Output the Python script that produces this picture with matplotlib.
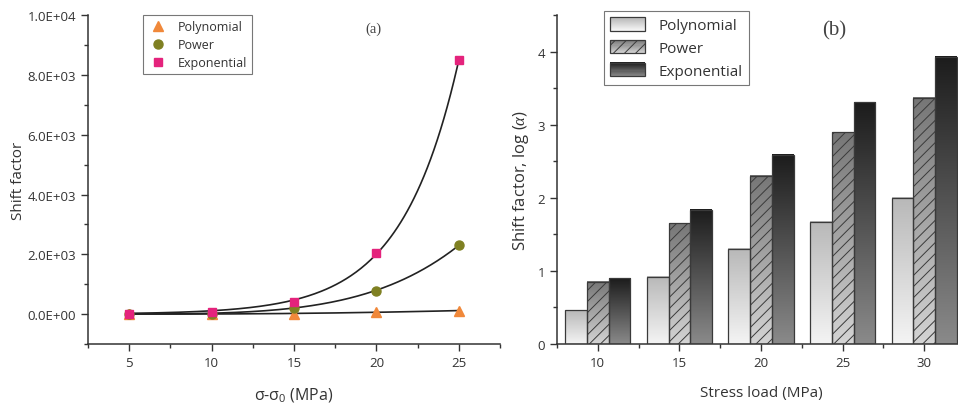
import numpy as np
import matplotlib
matplotlib.use("Agg")
import matplotlib.pyplot as plt
from matplotlib.colors import LinearSegmentedColormap, to_rgb
from matplotlib.patches import Rectangle
from matplotlib.legend_handler import HandlerBase
from matplotlib.ticker import MultipleLocator, FuncFormatter

plt.rcParams["font.family"] = ["Open Sans", "DejaVu Sans"]
plt.rcParams["mathtext.fontset"] = "custom"
plt.rcParams["mathtext.rm"] = "Open Sans"
plt.rcParams["mathtext.it"] = "Liberation Serif:italic"
plt.rcParams["hatch.linewidth"] = 0.7

# ---- panel (a): shift factor vs stress difference ----
stress_a = [5, 10, 15, 20, 25]
poly_a = [3, 10, 20, 60, 120]
power_a = [5, 20, 220, 790, 2300]
expo_a = [15, 60, 390, 2040, 8490]

# ---- panel (b): log shift factor vs stress load ----
stress_b = [10, 15, 20, 25, 30]
poly_b = [0.46, 0.92, 1.30, 1.67, 2.00]
power_b = [0.85, 1.65, 2.30, 2.90, 3.37]
expo_b = [0.90, 1.84, 2.59, 3.31, 3.93]

names = ["Polynomial", "Power", "Exponential"]
marker_colors = ["#f0883a", "#7f8022", "#e4237c"]
# (top colour, bottom colour) of each bar gradient
grad_colors = [("#b8b8b8", "#f4f4f4"), ("#767676", "#d4d4d4"), ("#1c1c1c", "#8a8a8a")]

TXT = "#333333"

fig = plt.figure(figsize=(9.58, 4.06), dpi=100)
ax1 = fig.add_axes([0.0919, 0.1502, 0.430, 0.810])
ax2 = fig.add_axes([0.5814, 0.1502, 0.426, 0.810])

for ax in (ax1, ax2):
    for s in ("top", "right"):
        ax.spines[s].set_visible(False)
    for s in ("left", "bottom"):
        ax.spines[s].set_color("#333333")
        ax.spines[s].set_linewidth(1.1)
    ax.tick_params(which="major", direction="out", length=5, width=1.0,
                   colors="#333333", labelsize=9.5, labelcolor=TXT)
    ax.tick_params(which="minor", direction="out", length=3, width=1.0,
                   colors="#333333")

# ---------------- (a) ----------------
xs = np.linspace(5, 25, 200)
x = np.array(stress_a, float)

# fitted curves (weighted towards the large values, like a linear-space fit)
ye = np.array(expo_a, float)
ce = np.polyfit(x, np.log(ye), 1, w=ye)
ax1.plot(xs, np.exp(np.polyval(ce, xs)), color="#222222", lw=1.2, zorder=2)

yp = np.array(power_a, float)
cp = np.polyfit(np.log(x), np.log(yp), 1, w=yp)
ax1.plot(xs, np.exp(np.polyval(cp, np.log(xs))), color="#222222", lw=1.2, zorder=2)

yl = np.array(poly_a, float)
cl = np.polyfit(x, yl, 2)
ax1.plot(xs, np.polyval(cl, xs), color="#222222", lw=1.2, zorder=2)

ax1.plot(stress_a, poly_a, "^", ls="none", color=marker_colors[0], ms=6.5,
         label=names[0], zorder=3)
ax1.plot(stress_a, power_a, "o", ls="none", color=marker_colors[1], ms=6.5,
         label=names[1], zorder=3)
ax1.plot(stress_a, expo_a, "s", ls="none", color=marker_colors[2], ms=6,
         label=names[2], zorder=3)

ax1.set_xlim(2.5, 27.5)
ax1.set_ylim(-1000, 10000)
ax1.xaxis.set_major_locator(MultipleLocator(5))
ax1.xaxis.set_minor_locator(MultipleLocator(2.5))
ax1.yaxis.set_major_locator(MultipleLocator(2000))
ax1.yaxis.set_minor_locator(MultipleLocator(1000))
ax1.yaxis.set_major_formatter(FuncFormatter(lambda v, p: f"{v:.1E}"))
ax1.set_ylabel("Shift factor", fontsize=11, color=TXT, labelpad=1)
ax1.set_xlabel(r"σ-σ$_0$ (MPa)", fontsize=11.5, color=TXT, labelpad=12)
ax1.text(0.694, 0.96, "(a)", transform=ax1.transAxes, fontsize=10.5,
         family="Liberation Serif", color="#444444", ha="center", va="center")
leg1 = ax1.legend(loc="upper left", bbox_to_anchor=(0.133, 1.0), borderaxespad=0,
                  fontsize=9, frameon=True, fancybox=False, handletextpad=0.8,
                  borderpad=0.4, labelspacing=0.4, handlelength=1.6)
leg1.get_frame().set_edgecolor("#555555")
leg1.get_frame().set_linewidth(0.8)
for t in leg1.get_texts():
    t.set_color(TXT)

# ---------------- (b) ----------------
width = 4 / 3
series_b = [poly_b, power_b, expo_b]
offsets = [-width, 0, width]


def gradient_cmap(top, bottom):
    return LinearSegmentedColormap.from_list("g", [bottom, top])


grad = np.linspace(0, 1, 256).reshape(-1, 1)
handles = []
for i, vals in enumerate(series_b):
    cmap = gradient_cmap(*grad_colors[i])
    pos = [s + offsets[i] for s in stress_b]
    bars = ax2.bar(pos, vals, width=width, facecolor="none", edgecolor="#3a3a3a",
                   linewidth=0.9, hatch="///" if i == 1 else None, zorder=3)
    for b in bars:
        x0, w, h = b.get_x(), b.get_width(), b.get_height()
        ax2.imshow(grad, extent=[x0, x0 + w, 0, h], origin="lower",
                   aspect="auto", cmap=cmap, zorder=2, interpolation="bilinear")
    handles.append(bars[0])


class GradientHandler(HandlerBase):
    def __init__(self, top, bottom, hatch=None):
        super().__init__()
        self.top, self.bottom, self.hatch = top, bottom, hatch

    def create_artists(self, legend, orig, xd, yd, w, h, fs, trans):
        arts = []
        n = 12
        c0, c1 = np.array(to_rgb(self.bottom)), np.array(to_rgb(self.top))
        for k in range(n):
            c = c0 + (c1 - c0) * (k + 0.5) / n
            r = Rectangle((-xd, -yd + h * k / n), w, h / n + 0.2, facecolor=c,
                          edgecolor="none", transform=trans)
            arts.append(r)
        edge = Rectangle((-xd, -yd), w, h, facecolor="none", edgecolor="#3a3a3a",
                         lw=0.9, hatch=self.hatch, transform=trans)
        arts.append(edge)
        return arts


ax2.set_xlim(7.5, 32.5)
ax2.set_ylim(0, 4.5)
ax2.xaxis.set_major_locator(MultipleLocator(5))
ax2.xaxis.set_minor_locator(MultipleLocator(2.5))
ax2.yaxis.set_major_locator(MultipleLocator(1))
ax2.yaxis.set_minor_locator(MultipleLocator(0.5))
ax2.yaxis.set_major_formatter(FuncFormatter(lambda v, p: f"{v:g}"))
ax2.set_ylabel(r"Shift factor, log ($\alpha$)", fontsize=12, color=TXT, labelpad=5)
ax2.set_xlabel("Stress load (MPa)", fontsize=11, color=TXT, labelpad=12)
ax2.text(0.68, 0.955, "(b)", transform=ax2.transAxes, fontsize=15,
         family="Liberation Serif", color="#444444", ha="center", va="center")
hmap = {handles[i]: GradientHandler(*grad_colors[i], hatch="///" if i == 1 else None)
        for i in range(3)}
leg2 = ax2.legend(handles, names, handler_map=hmap, loc="upper left",
                  bbox_to_anchor=(0.115, 1.012), borderaxespad=0, fontsize=11,
                  frameon=True, fancybox=False, handletextpad=0.9, borderpad=0.4,
                  labelspacing=0.45, handlelength=2.3, handleheight=0.95)
leg2.get_frame().set_edgecolor("#555555")
leg2.get_frame().set_linewidth(0.8)
for t in leg2.get_texts():
    t.set_color(TXT)

fig.savefig("out.png", dpi=100)
